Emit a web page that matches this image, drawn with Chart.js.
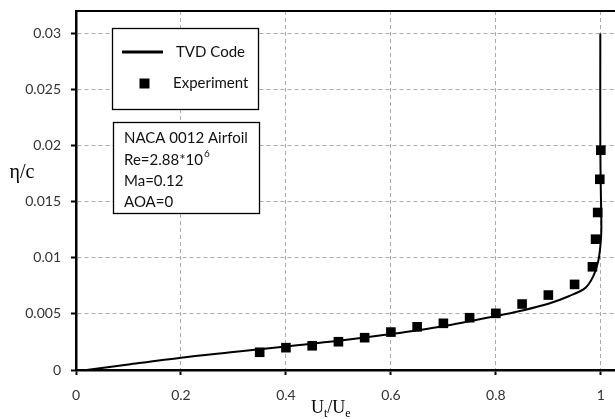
<!DOCTYPE html>
<html>
<head>
<meta charset="utf-8">
<script src="https://cdn.jsdelivr.net/npm/chart.js@4"></script>
<style>
  html, body { margin: 0; padding: 0; background: #fff; }
  #wrap { width: 615px; height: 419px; position: relative; }
</style>
</head>
<body>
<div id="wrap"><canvas id="chart" width="615" height="419"></canvas></div>
<script>
// TVD code profile (U_t/U_e, eta/c)
const tvdX = [0.02, 0.1, 0.2, 0.3, 0.4, 0.5, 0.6, 0.7, 0.8, 0.85, 0.9, 0.94, 0.97, 0.985, 0.995, 0.999, 1.001, 1.0, 0.999, 0.999];
const tvdY = [0, 0.0005, 0.0011, 0.0016, 0.0021, 0.0026, 0.0032, 0.0039, 0.0048, 0.0053, 0.0059, 0.0066, 0.0073, 0.0083, 0.0097, 0.011, 0.0125, 0.016, 0.02, 0.03];

// experiment points
const expX = [0.35, 0.40, 0.45, 0.50, 0.55, 0.60, 0.65, 0.70, 0.75, 0.80, 0.85, 0.90, 0.95, 0.984, 0.99, 0.994, 0.998, 1.0];
const expY = [0.00158, 0.00199, 0.00216, 0.00252, 0.00288, 0.00338, 0.00385, 0.00416, 0.00466, 0.00505, 0.00588, 0.00668, 0.00763, 0.0092, 0.01166, 0.01404, 0.0170, 0.01959];

const xTicks = [0, 0.2, 0.4, 0.6, 0.8, 1];
const xTickLabels = ["0", "0.2", "0.4", "0.6", "0.8", "1"];
const yTicks = [0, 0.005, 0.01, 0.015, 0.02, 0.025, 0.03];
const yTickLabels = ["0", "0.005", "0.01", "0.015", "0.02", "0.025", "0.03"];

const legendNames = ["TVD Code", "Experiment"];
const infoLines = ["NACA 0012 Airfoil", "Re=2.88*10", "Ma=0.12", "AOA=0"];

const tickFont = { family: "Lato", size: 14 };

const noPad = s => { s.paddingTop = 0; s.paddingBottom = 0; s.paddingLeft = 0; s.paddingRight = 0; };

const overlay = {
  id: "overlay",
  afterDraw(chart) {
    const { ctx, chartArea } = chart;
    ctx.save();
    // top frame line
    ctx.strokeStyle = "#000";
    ctx.lineWidth = 2;
    ctx.beginPath();
    ctx.moveTo(chartArea.left, chartArea.top);
    ctx.lineTo(chartArea.right, chartArea.top);
    ctx.stroke();

    // legend box
    ctx.fillStyle = "#fff";
    ctx.lineWidth = 1.3;
    ctx.fillRect(112, 28, 146, 81);
    ctx.strokeRect(112.5, 28.5, 146, 81);
    ctx.lineWidth = 3;
    ctx.beginPath();
    ctx.moveTo(122, 52);
    ctx.lineTo(163, 52);
    ctx.stroke();
    ctx.fillStyle = "#000";
    ctx.fillRect(139.5, 78.5, 10, 10);
    ctx.font = "15px Lato";
    ctx.textBaseline = "middle";
    ctx.fillStyle = "#111";
    ctx.fillText(legendNames[0], 176, 52);
    ctx.fillText(legendNames[1], 173, 83);

    // info box
    ctx.fillStyle = "#fff";
    ctx.fillRect(113, 122, 146, 91);
    ctx.lineWidth = 1.3;
    ctx.strokeRect(113.5, 122.5, 146, 91);
    ctx.fillStyle = "#111";
    const ys = [138, 160, 181, 202];
    infoLines.forEach((t, i) => ctx.fillText(t, 124, ys[i]));
    const w = ctx.measureText(infoLines[1]).width;
    ctx.font = "10px Lato";
    ctx.fillText("6", 124 + w + 1, 154);

    // axis titles
    ctx.fillStyle = "#000";
    ctx.font = "20px 'Liberation Serif'";
    ctx.textAlign = "center";
    ctx.textBaseline = "alphabetic";
    ctx.fillText("\u03b7/c", 22, 178);
    ctx.textAlign = "left";
    let x = 311;
    const base = 413;
    ctx.font = "18px 'Liberation Serif'";
    ctx.fillText("U", x, base); x += ctx.measureText("U").width;
    ctx.font = "12px 'Liberation Serif'";
    ctx.fillText("t", x, base + 4); x += ctx.measureText("t").width;
    ctx.font = "18px 'Liberation Serif'";
    ctx.fillText("/U", x, base); x += ctx.measureText("/U").width;
    ctx.font = "12px 'Liberation Serif'";
    ctx.fillText("e", x, base + 4);
    ctx.restore();
  }
};

new Chart(document.getElementById("chart"), {
  type: "scatter",
  data: {
    datasets: [
      {
        label: legendNames[0],
        type: "line",
        data: tvdX.map((v, i) => ({ x: v, y: tvdY[i] })),
        borderColor: "#000",
        borderWidth: 2,
        pointRadius: 0,
        tension: 0.3,
        fill: false
      },
      {
        label: legendNames[1],
        data: expX.map((v, i) => ({ x: v, y: expY[i] })),
        pointStyle: "rect",
        pointRadius: 6.8,
        backgroundColor: "#000",
        borderColor: "#000",
        borderWidth: 0
      }
    ]
  },
  options: {
    responsive: false,
    animation: false,
    layout: { autoPadding: false, padding: { top: 11, right: 0, left: 0, bottom: 0 } },
    plugins: { legend: { display: false }, tooltip: { enabled: false } },
    scales: {
      x: {
        type: "linear",
        min: 0,
        max: 1.027,
        afterBuildTicks: s => { s.ticks = xTicks.map(v => ({ value: v })); },
        afterFit: s => { s.height = 49; noPad(s); },
        ticks: {
          callback: (v, i) => xTickLabels[i],
          font: tickFont,
          color: "#333",
          padding: 12,
          maxRotation: 0
        },
        grid: { color: "#aaa", lineWidth: 1, tickLength: 5, tickColor: "#000", tickWidth: 2 },
        border: { color: "#000", width: 2.5, dash: [4, 3] }
      },
      y: {
        type: "linear",
        min: 0,
        max: 0.032,
        afterBuildTicks: s => { s.ticks = yTicks.map(v => ({ value: v })); },
        afterFit: s => { s.width = 76; noPad(s); },
        ticks: {
          callback: (v, i) => yTickLabels[i],
          font: tickFont,
          color: "#333",
          padding: 10
        },
        grid: { color: "#aaa", lineWidth: 1, tickLength: 5, tickColor: "#000", tickWidth: 2 },
        border: { color: "#000", width: 2.5, dash: [4, 3] }
      }
    }
  },
  plugins: [overlay]
});
</script>
</body>
</html>
